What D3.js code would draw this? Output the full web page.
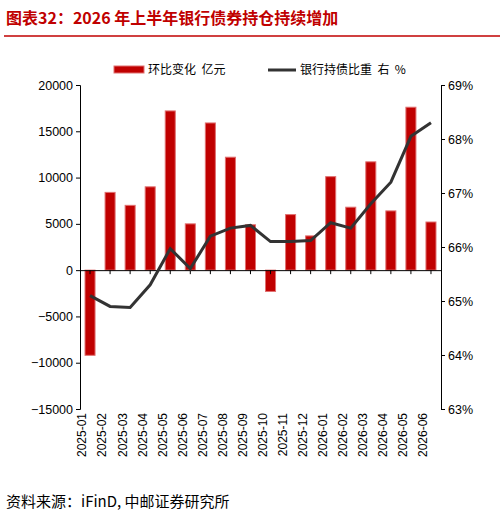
<!DOCTYPE html>
<html><head><meta charset="utf-8">
<script src="https://cdn.jsdelivr.net/npm/d3@7"></script>
<style>body{margin:0;background:#fff;font-family:"Noto Sans CJK SC",sans-serif;} text{white-space:pre;}</style>
</head><body><svg id="c" width="504" height="519"></svg>
<script>
const categories=["2025-01","2025-02","2025-03","2025-04","2025-05","2025-06","2025-07","2025-08","2025-09","2025-10","2025-11","2025-12","2026-01","2026-02","2026-03","2026-04","2026-05","2026-06"];
const changeValues=[-9200,8400,7000,9000,17200,5000,15900,12200,4900,-2300,6000,3700,10100,6800,11700,6400,17600,5200];
const shareValues=[65.1,64.9,64.88,65.3,65.97,65.6,66.2,66.35,66.4,66.1,66.1,66.12,66.45,66.35,66.8,67.2,68.05,68.3];
const leftTicks=[-15000,-10000,-5000,0,5000,10000,15000,20000];
const rightTicks=[63,64,65,66,67,68,69];
const svg=d3.select("#c");
const red="#c00000";
svg.append("text").attr("x",6).attr("y",24).attr("fill",red).attr("font-size",16).attr("font-weight","bold").text("图表32：2026 年上半年银行债券持仓持续增加");
svg.append("line").attr("x1",4).attr("x2",500).attr("y1",36).attr("y2",36).attr("stroke",red).attr("stroke-width",1.5);
const L=80,R=441,T=85,B=409;
const x=d3.scaleBand().domain(categories).range([L,R]).paddingInner(0.5).paddingOuter(0.25);
const y=d3.scaleLinear().domain([-15000,20000]).range([B,T]);
const y2=d3.scaleLinear().domain([63,69]).range([B,T]);
svg.selectAll("rect.b").data(changeValues).enter().append("rect").attr("class","b")
 .attr("x",(d,i)=>x(categories[i])).attr("width",x.bandwidth())
 .attr("y",d=>y(Math.max(0,d))).attr("height",d=>Math.abs(y(d)-y(0)))
 .attr("fill",red).attr("stroke","#e07070").attr("stroke-width",1);
const ax=svg.append("g").attr("transform",`translate(${L},0)`).call(d3.axisLeft(y).tickValues(leftTicks).tickSize(4).tickFormat(d=>d<0?"−"+Math.abs(d):d));
const ax2=svg.append("g").attr("transform",`translate(${R},0)`).call(d3.axisRight(y2).tickValues(rightTicks).tickSize(4).tickFormat(d=>d+"%"));
const ax0=svg.append("g").attr("transform",`translate(0,${y(0)})`).call(d3.axisBottom(x).tickSize(4).tickFormat(""));
const axb=svg.append("g").attr("transform",`translate(0,${B})`).call(d3.axisBottom(x).tickSize(0));
axb.select(".domain").remove();
axb.selectAll("text").attr("transform","rotate(-90)").attr("text-anchor","end").attr("dx","-4").attr("dy","-0.3em").attr("x",0).attr("y",0).attr("font-size",12);
[ax,ax2].forEach(a=>a.selectAll("text").attr("font-size",12.5).attr("fill","#000").attr("font-family","Liberation Sans, Arial"));
axb.selectAll("text").attr("fill","#000").attr("font-family","Liberation Sans, Arial");
svg.selectAll(".domain,.tick line").attr("stroke","#000");
svg.append("path").datum(shareValues).attr("fill","none").attr("stroke","#333").attr("stroke-width",3)
 .attr("d",d3.line().x((d,i)=>x(categories[i])+x.bandwidth()/2).y(d=>y2(d)));
const lg=svg.append("g").attr("font-size",12);
lg.append("rect").attr("x",114).attr("y",66).attr("width",30).attr("height",7).attr("fill",red).attr("stroke","#e07070");
lg.append("text").attr("x",148).attr("y",74).text("环比变化  亿元");
lg.append("line").attr("x1",268).attr("x2",296).attr("y1",70).attr("y2",70).attr("stroke","#333").attr("stroke-width",3);
lg.append("text").attr("x",300).attr("y",74).text("银行持债比重  右  %");
svg.append("text").attr("x",6).attr("y",507).attr("font-size",15).text("资料来源：iFinD, 中邮证券研究所");
</script></body></html>
